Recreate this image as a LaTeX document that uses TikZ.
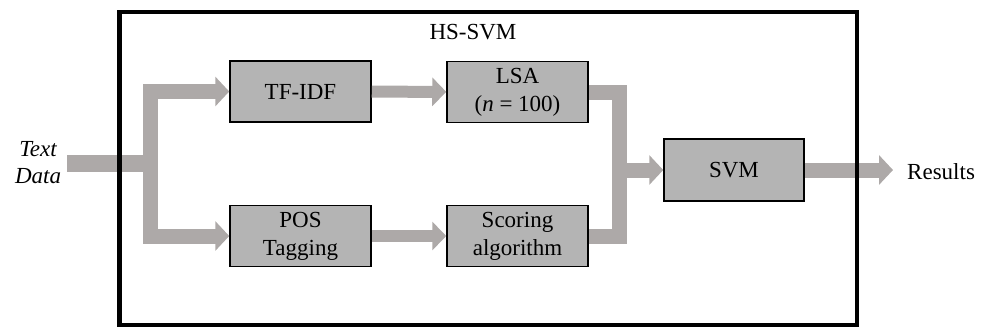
\documentclass[tikz,border=0pt]{standalone}
\usepackage{fontspec}
\setmainfont{Liberation Serif}
\usetikzlibrary{arrows.meta}
\definecolor{flowgray}{RGB}{173,169,168}
\definecolor{boxgray}{RGB}{180,180,180}
\begin{document}
\begin{tikzpicture}[x=1pt,y=-1pt,
  stage/.style={draw=black, line width=1.5pt, fill=boxgray,
    minimum width=141pt, minimum height=61pt, inner sep=0pt,
    align=center, font=\fontsize{23}{28}\selectfont},
  plain/.style={inner sep=0pt, align=center, font=\fontsize{23}{27}\selectfont},
  feed/.style={draw=flowgray, line width=15pt, line join=miter},
  flow/.style={feed, -{Triangle[length=14pt,width=29pt]}},
  thinflow/.style={feed, line width=12pt, -{Triangle[length=14pt,width=28pt]}}]
\useasboundingbox (0,0) rectangle (981,327);

% processing stages
\node[stage] (tfidf) at (300.5,91.5) {TF-IDF};
\node[stage] (lsa) at (517.5,92) {LSA\\(\textit{n} = 100)};
\node[stage] (pos) at (300.5,236) {POS\\Tagging};
\node[stage] (score) at (517.5,236) {Scoring\\algorithm};
\node[stage, minimum width=140pt, minimum height=62pt] (svm) at (734,170) {SVM};

% labels
\node[plain, font={\fontsize{23}{27}\selectfont\itshape}] (src) at (38,163) {Text\\Data};
\node[plain, anchor=west] (res) at (907,172) {Results};
\node[plain] (title) at (473,32) {HS-SVM};

% branch and merge points
\coordinate (split) at (150.5,163);
\coordinate (join) at (619.5,170);

% data flow
\draw[feed, line width=17pt] ([xshift=6pt]src.east) -- (split);
\draw[flow] (split) |- (tfidf.west);
\draw[flow] (split) |- (pos.west);
\draw[thinflow] (tfidf) -- (lsa);
\draw[thinflow] (pos) -- (score);
\draw[feed] (lsa.east) -| (join) |- (score.east);
\draw[flow] (join) -- (svm.west);
\draw[flow, shorten >=14pt] (svm.east) -- (res.west |- svm.east);

% system boundary
\node[draw=black, line width=4.5pt, minimum width=737.5pt, minimum height=313pt,
  inner sep=0pt] (frame) at (488.25,168.5) {};
\end{tikzpicture}
\end{document}
